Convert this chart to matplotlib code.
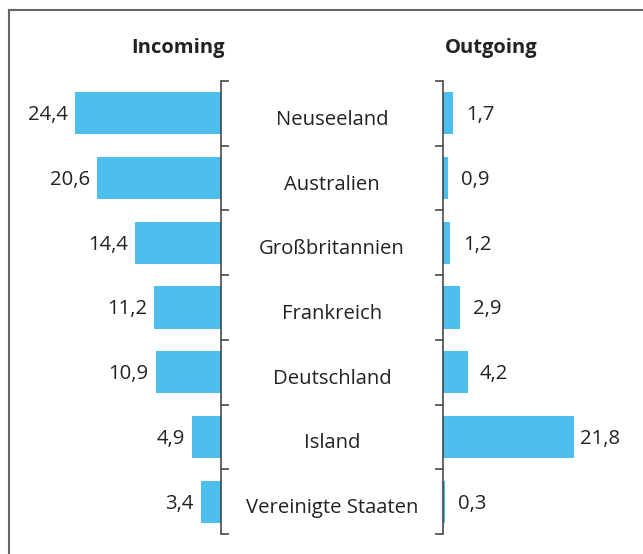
import matplotlib
matplotlib.use('Agg')
import matplotlib.pyplot as plt
from matplotlib.lines import Line2D

countries = ["Neuseeland", "Australien", "Großbritannien", "Frankreich",
             "Deutschland", "Island", "Vereinigte Staaten"]
incoming = [24.4, 20.6, 14.4, 11.2, 10.9, 4.9, 3.4]
outgoing = [1.7, 0.9, 1.2, 2.9, 4.2, 21.8, 0.3]

plt.rcParams['font.family'] = ['Open Sans', 'DejaVu Sans']

W, H = 643, 554
fig = plt.figure(figsize=(W / 100, H / 100), dpi=100)


def fx(px):
    return px / W


def fy(py):
    return 1 - py / H


BLUE = '#4DBFEC'
TXT = '#222222'
SPINE = '#3a3a3a'
top, bot = 81, 534
n = len(countries)
ypos = list(range(n))

axL = fig.add_axes([fx(41), fy(bot), fx(221 - 41), (bot - top) / H])
axR = fig.add_axes([fx(443), fy(bot), fx(641 - 443), (bot - top) / H])

axL.barh(ypos, incoming, height=0.65, color=BLUE)
axR.barh(ypos, outgoing, height=0.65, color=BLUE)

axL.set_xlim(30, 0)
axR.set_xlim(0, 33)
bounds = [i - 0.5 for i in range(n + 1)]
for ax in (axL, axR):
    ax.set_ylim(n - 0.5, -0.5)
    ax.set_yticks(bounds)
    ax.set_yticklabels([])
    ax.xaxis.set_visible(False)
    for s in ax.spines.values():
        s.set_visible(False)
    ax.patch.set_alpha(0)

axL.spines['right'].set_visible(True)
axL.spines['right'].set_color(SPINE)
axL.spines['right'].set_linewidth(1.1)
axL.yaxis.tick_right()
axL.tick_params(axis='y', direction='out', length=5.8, width=1.1, color=SPINE)

axR.spines['left'].set_visible(True)
axR.spines['left'].set_color(SPINE)
axR.spines['left'].set_linewidth(1.1)
axR.yaxis.tick_left()
axR.tick_params(axis='y', direction='out', length=5.8, width=1.1, color=SPINE)

FS = 14.6
for i, v in enumerate(incoming):
    axL.annotate(f"{v:.1f}".replace('.', ','), xy=(v, i), xytext=(-5, -1.4),
                 textcoords='offset points', ha='right', va='center',
                 fontsize=FS, color=TXT)
for i, v in enumerate(outgoing):
    axR.annotate(f"{v:.1f}".replace('.', ','), xy=(v * 0.945, i), xytext=(9.5, -1.4),
                 textcoords='offset points', ha='left', va='center',
                 fontsize=FS, color=TXT)

step = (bot - top) / n
for i, c in enumerate(countries):
    fig.text(fx(332), fy(top + (i + 0.5) * step + 6.5), c, ha='center', va='center',
             fontsize=FS, color=TXT)

fig.text(fx(178), fy(53), 'Incoming', ha='center', va='baseline',
         fontsize=14.5, fontweight='bold', color=TXT)
fig.text(fx(491), fy(53), 'Outgoing', ha='center', va='baseline',
         fontsize=14.5, fontweight='bold', color=TXT)

fig.add_artist(Line2D([fx(9), 1], [fy(10), fy(10)], transform=fig.transFigure,
                      color='#666666', lw=1.5))
fig.add_artist(Line2D([fx(9), fx(9)], [fy(10), 0], transform=fig.transFigure,
                      color='#666666', lw=1.5))

fig.savefig('out.png', dpi=100)
